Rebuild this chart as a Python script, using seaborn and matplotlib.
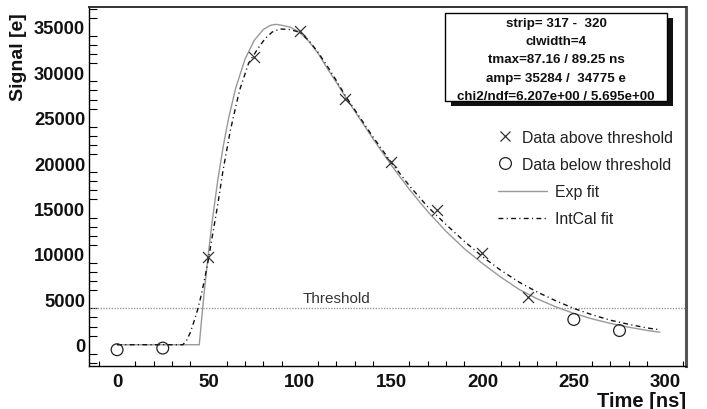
import matplotlib
matplotlib.use("Agg")
import matplotlib.pyplot as plt
from matplotlib.lines import Line2D
from matplotlib.patches import Rectangle
from matplotlib.ticker import MultipleLocator
import seaborn as sns
import pandas as pd

# ---------------- data ----------------
t_above = [50, 75, 100, 125, 150, 175, 200, 225]
sig_above = [9700, 31700, 34600, 27100, 20100, 14800, 10100, 5300]

t_below = [0, 25, 250, 275]
sig_below = [-550, -370, 2780, 1560]

t_exp = [0, 45, 46, 47, 48, 50, 52, 55, 58, 61, 65, 70, 75, 80, 84, 87.16, 91, 95,
         100, 105, 110, 115, 120, 125, 130, 140, 150, 160, 170, 180, 190, 200,
         210, 220, 230, 240, 250, 260, 270, 280, 290, 297]
sig_exp = [0, 0, 2220, 4340, 6360, 10100, 13490, 17950, 21730, 24900, 28310, 31440,
           33500, 34710, 35180, 35284, 35150, 34950, 34400, 33400, 32100, 30450,
           28900, 27290, 25750, 22710, 19800, 17100, 14670, 12500, 10590, 8950,
           7450, 6100, 5050, 4180, 3450, 2850, 2350, 1930, 1580, 1380]

t_int = [0, 36, 38, 40, 42, 44, 46, 48, 50, 52, 55, 58, 62, 67, 72, 77, 81, 85,
         89.25, 95, 100, 105, 110, 115, 120, 125, 130, 140, 150, 160, 170, 180,
         190, 200, 210, 220, 230, 240, 250, 260, 270, 280, 290, 297]
sig_int = [0, 0, 450, 1300, 2500, 3800, 5400, 7300, 9400, 11800, 15300, 19200,
           23600, 28000, 31000, 32600, 33700, 34450, 34775, 34700, 34400, 33500,
           32200, 30700, 29100, 27400, 25900, 22900, 20100, 17500, 15200, 13250,
           11400, 9700, 8200, 6900, 5800, 4850, 4000, 3300, 2700, 2250, 1850, 1650]

threshold = 4000

legend_labels = ["Data above threshold", "Data below threshold", "Exp fit", "IntCal fit"]
box_lines = ["strip= 317 -  320", "clwidth=4", "tmax=87.16 / 89.25 ns",
             "amp= 35284 /  34775 e", "chi2/ndf=6.207e+00 / 5.695e+00"]

x_ticks = [0, 50, 100, 150, 200, 250, 300]
y_ticks = [0, 5000, 10000, 15000, 20000, 25000, 30000, 35000]

# ---------------- style ----------------
sns.set_theme(style="white")
plt.rcParams["font.family"] = ["Liberation Sans", "DejaVu Sans"]

W, H = 707, 410
fig = plt.figure(figsize=(W / 100, H / 100), dpi=100)
ax = fig.add_axes([89.3 / W, 1 - 366.7 / H, (686 - 89.3) / W, (366.7 - 8.3) / H])

df_exp = pd.DataFrame({"t": t_exp, "s": sig_exp})
df_int = pd.DataFrame({"t": t_int, "s": sig_int})
df_a = pd.DataFrame({"t": t_above, "s": sig_above})
df_b = pd.DataFrame({"t": t_below, "s": sig_below})

dashdot = (0, (3.5, 2.4, 0.8, 2.4))

ax.axhline(threshold, color="#9a9a9a", lw=1.0, ls=(0, (1, 1)), zorder=1)
sns.lineplot(data=df_exp, x="t", y="s", ax=ax, color="#999999", lw=1.0,
             estimator=None, sort=False, zorder=2)
sns.lineplot(data=df_int, x="t", y="s", ax=ax, color="#111111", lw=1.0,
             estimator=None, sort=False, zorder=3)
ax.lines[-1].set_linestyle(dashdot)
sns.scatterplot(data=df_a, x="t", y="s", ax=ax, marker="x", s=62,
                color="#333333", linewidth=0.9, zorder=4)
sns.scatterplot(data=df_b, x="t", y="s", ax=ax, marker="o", s=72,
                facecolor="none", edgecolor="#222222", linewidth=0.9, zorder=4)

ax.text(120, threshold + 350, "Threshold", ha="center", va="bottom",
        fontsize=11, color="#333333")

ax.set_xlim(-15.2, 311.4)
ax.set_ylim(-2310, 37160)
ax.set_xticks(x_ticks)
ax.set_yticks(y_ticks)
ax.xaxis.set_minor_locator(MultipleLocator(10))
ax.yaxis.set_minor_locator(MultipleLocator(1000))
ax.tick_params(axis="y", which="major", direction="in", length=12, width=1.0,
               color="black", labelsize=13.2, pad=3)
ax.tick_params(axis="y", which="minor", direction="in", length=5.8, width=0.8,
               color="black", left=True)
ax.tick_params(axis="x", which="major", direction="in", length=7.7, width=1.0,
               color="black", labelsize=13.5, pad=5)
ax.tick_params(axis="x", which="minor", direction="in", length=3.5, width=0.8,
               color="black", bottom=True)
for lab in ax.get_xticklabels() + ax.get_yticklabels():
    lab.set_fontweight("bold")
    lab.set_color("#111111")

ax.set_xlabel("Time [ns]", fontsize=14.5, fontweight="bold", loc="right", color="#111111")
ax.set_ylabel("Signal [e]", fontsize=14, fontweight="bold", loc="top", color="#111111")
ax.xaxis.set_label_coords(1.0, -0.07)
ax.yaxis.set_label_coords(-0.104, 0.985)

for side in ["left", "bottom"]:
    ax.spines[side].set_color("black")
    ax.spines[side].set_linewidth(1.0)
ax.spines["top"].set_color("#333333")
ax.spines["top"].set_linewidth(1.4)
ax.spines["right"].set_color("#555555")
ax.spines["right"].set_linewidth(2.2)

# legends
h1 = [Line2D([], [], marker="x", ls="none", color="#333333", markersize=7.8, mew=0.9),
      Line2D([], [], marker="o", ls="none", mfc="none", mec="#222222", markersize=8.5, mew=0.9)]
h2 = [Line2D([], [], color="#999999", lw=1.0),
      Line2D([], [], color="#111111", lw=1.0, ls=dashdot)]
leg1 = ax.legend(h1, legend_labels[:2], loc="upper left", frameon=False,
                 bbox_to_anchor=(497 / W, 1 - 131 / H), bbox_transform=fig.transFigure,
                 borderpad=0, borderaxespad=0, handlelength=1.0, handletextpad=0.55,
                 labelspacing=0.75, fontsize=11.4, labelcolor="#222222")
ax.add_artist(leg1)
ax.legend(h2, legend_labels[2:], loc="upper left", frameon=False,
          bbox_to_anchor=(498 / W, 1 - 185.5 / H), bbox_transform=fig.transFigure,
          borderpad=0, borderaxespad=0, handlelength=3.1, handletextpad=0.5,
          labelspacing=0.75, fontsize=11.4, labelcolor="#222222")

# stats box with shadow
bx0, bx1, by0, by1 = 445, 667, 14, 101.7
fig.patches.append(Rectangle(((bx0 + 6) / W, 1 - (by1 + 5) / H), (bx1 - bx0) / W,
                             (by1 - by0) / H, transform=fig.transFigure,
                             facecolor="#111111", edgecolor="none", zorder=5))
fig.patches.append(Rectangle((bx0 / W, 1 - by1 / H), (bx1 - bx0) / W, (by1 - by0) / H,
                             transform=fig.transFigure, facecolor="white",
                             edgecolor="black", lw=1.0, zorder=6))
for i, line in enumerate(box_lines):
    yc = 24 + i * 18.2
    fig.text((bx0 + bx1) / 2 / W, 1 - yc / H, line, ha="center", va="center",
             fontsize=9.6, fontweight="bold", color="#111111", zorder=7)

fig.savefig("out.png", dpi=100, facecolor="white")
